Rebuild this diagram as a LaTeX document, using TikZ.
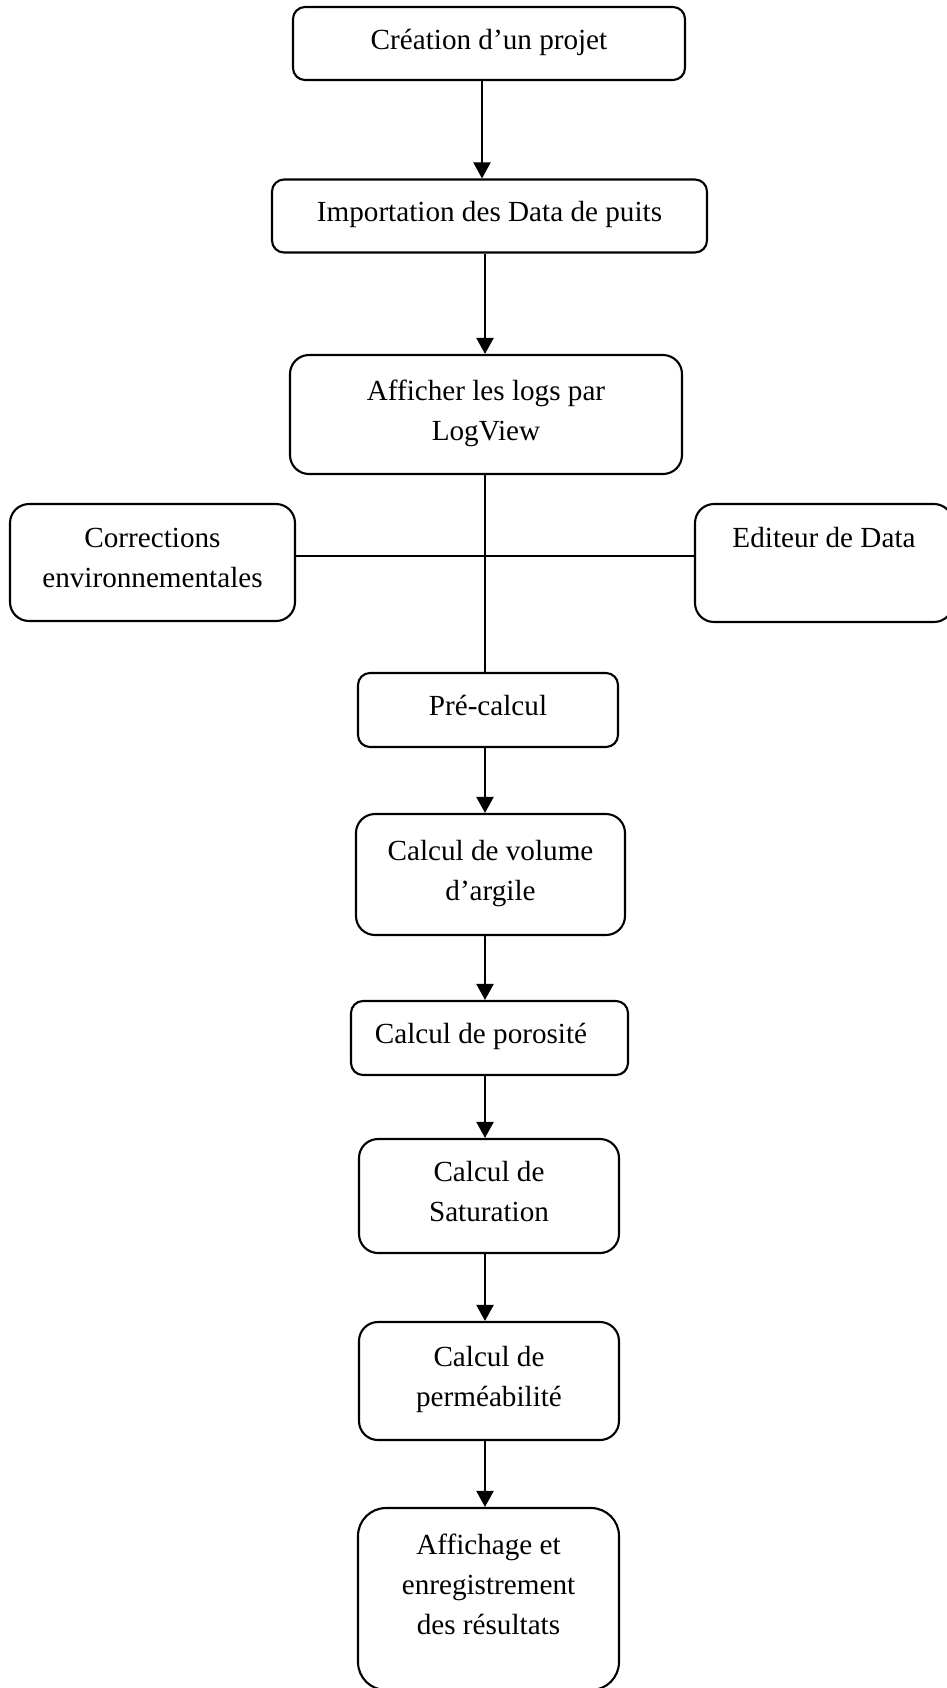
\documentclass[tikz,border=0pt]{standalone}
\usepackage{fontspec}
\setmainfont{Liberation Serif}
\usepackage{tikz}
\usetikzlibrary{arrows.meta,positioning,calc}
\tikzset{
  arr/.style={-{Triangle[length=0.16cm,width=0.17cm]},line width=0.6pt},
  lnk/.style={line width=0.6pt},
  box/.style={rectangle,draw,line width=0.6pt,align=center,
    font=\fontsize{8.3}{11.35}\selectfont,
    execute at end node={\rule[-0.085cm]{0pt}{0pt}}},
}

\begin{document}
\begin{tikzpicture}[
  sbox/.style={box,minimum height=0.73cm,rounded corners=0.12cm},
  tbox/.style={box,minimum height=1.18cm,rounded corners=0.19cm},
]
\clip (0,0) rectangle (9.47,-16.88);

% main column
\node[sbox,minimum width=3.92cm] (crea) at (4.89,-0.435) {Création d’un projet};
\node[sbox,minimum width=4.35cm] (imp) at (4.895,-2.16) {Importation des Data de puits};
\node[tbox,minimum width=3.92cm,minimum height=1.19cm] (aff) at (4.86,-4.145) {Afficher les logs par\\LogView};

% side boxes
\node[tbox,minimum width=2.85cm,minimum height=1.17cm] (corr) at (1.525,-5.625) {Corrections\\environnementales};
\node[tbox,minimum width=2.58cm] (edit) at (8.24,-5.63) {Editeur de Data\\\strut};

% calculations
\node[sbox,minimum width=2.60cm,minimum height=0.74cm] (pre) at (4.88,-7.10) {Pré-calcul};
\node[tbox,minimum width=2.69cm,minimum height=1.21cm] (vol) at (4.905,-8.745) {Calcul de volume\\d’argile};
\node[sbox,minimum width=2.77cm,minimum height=0.74cm] (poro) at (4.895,-10.38) {Calcul de porosité\hspace*{0.17cm}};
\node[tbox,minimum width=2.60cm,minimum height=1.14cm] (sat) at (4.89,-11.96) {Calcul de\\Saturation};
\node[tbox,minimum width=2.60cm] (perm) at (4.89,-13.81) {Calcul de\\perméabilité};
\node[box,minimum width=2.61cm,minimum height=1.82cm,rounded corners=0.28cm] (res) at (4.885,-15.99) {Affichage et\\enregistrement\\des résultats\rule[-0.29cm]{0pt}{0pt}};

\coordinate (trunk) at (4.85,-5.56);

% links
\draw[arr] ([xshift=-0.07cm]crea.south) -- ([xshift=-0.07cm]crea.south |- imp.north);
\draw[arr] (imp.south -| trunk) -- (aff.north -| trunk);
\draw[lnk] (aff.south -| trunk) -- (pre.north -| trunk);
\draw[lnk] (corr.east |- trunk) -- (edit.west |- trunk);
\draw[arr] (pre.south -| trunk) -- (vol.north -| trunk);
\draw[arr] (vol.south -| trunk) -- (poro.north -| trunk);
\draw[arr] (poro.south -| trunk) -- (sat.north -| trunk);
\draw[arr] (sat.south -| trunk) -- (perm.north -| trunk);
\draw[arr] (perm.south -| trunk) -- (res.north -| trunk);
\end{tikzpicture}
\end{document}
